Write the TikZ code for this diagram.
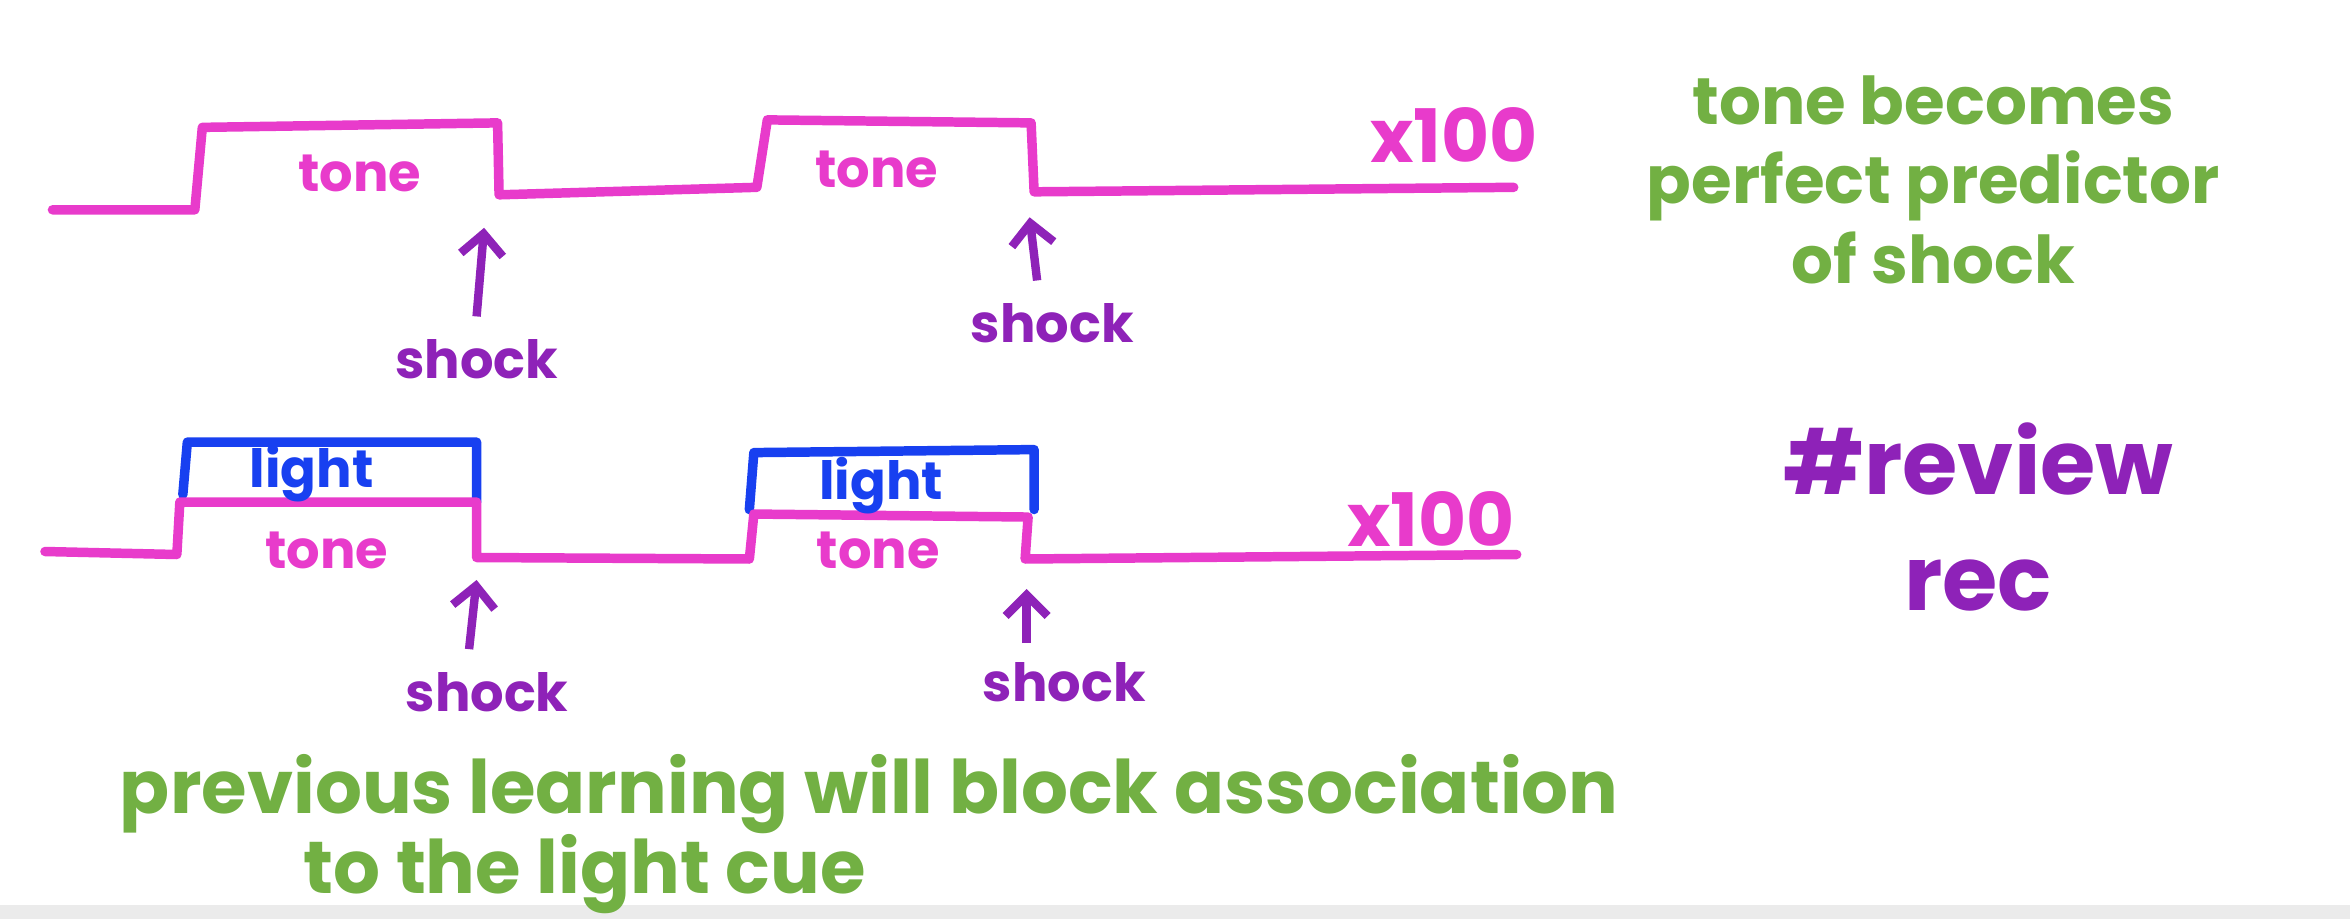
\documentclass[tikz,border=0pt]{standalone}
\usepackage{fontspec}
\usetikzlibrary{arrows.meta}
\setmainfont{Poppins}
\definecolor{pk}{HTML}{E83BCB}
\definecolor{bl}{HTML}{1840F0}
\definecolor{pu}{HTML}{8E22B8}
\definecolor{gr}{HTML}{72B043}
\tikzset{wave/.style={pk,line width=1.8pt,line join=round,line cap=round},
box/.style={bl,line width=1.8pt,line join=round,line cap=round},
arr/.style={pu,line width=1.6pt,-{Straight Barb[length=4pt]}},
lab/.style={inner sep=0pt,font=\fontsize{10}{11}\selectfont\bfseries},
note/.style={gr,inner sep=0pt,align=center,font=\fontsize{12.5}{15}\selectfont\bfseries}}
\begin{document}
\begin{tikzpicture}[x=0.01cm,y=-0.01cm]
\useasboundingbox (0,0) rectangle (1568,613);
\fill[black!8] (0,604) rectangle (1568,613);
% row 1
\draw[wave] (35,140) -- (130,140) -- (135,85) -- (332,82) -- (333,130) -- (505,125) -- (512,80) -- (688,82) -- (690,128) -- (1010,125);
\node[lab,pk] (t1) at (240,116) {tone};
\node[lab,pk] (t2) at (585,113) {tone};
\node[lab,pk,font=\fontsize{14}{15}\selectfont\bfseries] (x1) at (970,90) {x100};
\coordinate (s1t) at (323,152); \coordinate (s2t) at (687,145);
\node[lab,pu] (s1) at (318,240) {shock};
\node[lab,pu] (s2) at (702,216) {shock};
\draw[arr] (s1.north)++(0,-15) -- (s1t);
\draw[arr] (s2.north)++(-10,-15) -- (s2t);
\node[note] (n1) at (1290,120) {tone becomes\\perfect predictor\\of shock};
% row 2
\draw[box] (122,330) -- (125,295) -- (318,295) -- (318,335);
\draw[box] (500,340) -- (503,302) -- (690,300) -- (690,340);
\draw[wave] (30,368) -- (118,370) -- (120,335) -- (318,335) -- (318,372) -- (500,373) -- (503,343) -- (686,345) -- (684,373) -- (1012,370);
\node[lab,bl] (l1) at (208,316) {light};
\node[lab,bl] (l2) at (588,324) {light};
\node[lab,pk] (t3) at (218,367) {tone};
\node[lab,pk] (t4) at (586,367) {tone};
\node[lab,pk,font=\fontsize{14}{15}\selectfont\bfseries] (x2) at (955,346) {x100};
\coordinate (s3t) at (318,387); \coordinate (s4t) at (685,393);
\node[lab,pu] (s3) at (325,462) {shock};
\node[lab,pu] (s4) at (710,455) {shock};
\draw[arr] (s3.north)++(-12,-15) -- (s3t);
\draw[arr] (s4.north)++(-25,-12) -- (s4t);
\node[note,pu,font=\fontsize{17}{22}\selectfont\bfseries] (r) at (1320,345) {\#review\\rec};
\node[note,font=\fontsize{14}{16}\selectfont\bfseries] (b1) at (580,530) {previous learning will block association};
\node[note,font=\fontsize{14}{16}\selectfont\bfseries] (b2) at (390,583) {to the light cue};
\end{tikzpicture}
\end{document}
